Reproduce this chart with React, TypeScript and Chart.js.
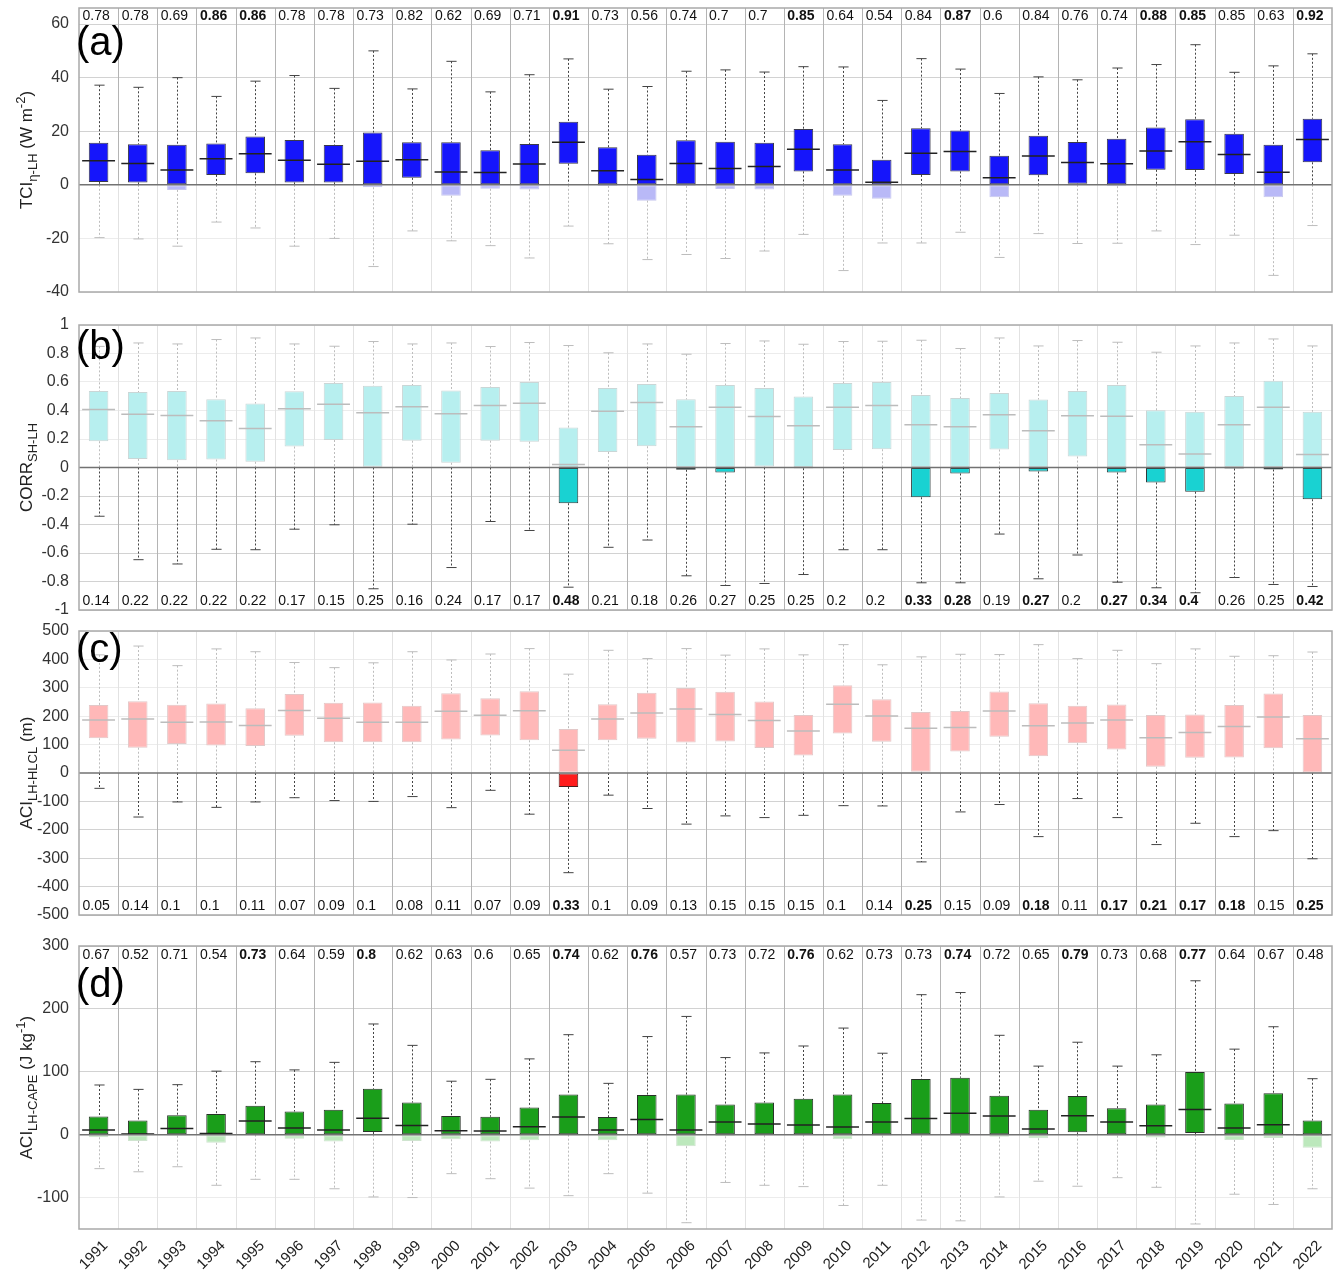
import React, { useEffect, useRef } from 'react';
import { Chart, registerables } from 'chart.js';
Chart.register(...registerables);

const FONT = '"Liberation Sans", Arial, Helvetica, sans-serif';

const years = ['1991','1992','1993','1994','1995','1996','1997','1998','1999','2000','2001','2002','2003','2004','2005','2006','2007','2008','2009','2010','2011','2012','2013','2014','2015','2016','2017','2018','2019','2020','2021','2022'];

// ---- Panel (a): TCI eta-LH ----
const aMax = [37.2, 36.4, 40.0, 33.0, 38.7, 40.8, 36.0, 50.0, 35.8, 46.1, 34.7, 41.1, 47.0, 35.7, 36.7, 42.4, 42.9, 42.1, 44.1, 44.0, 31.5, 47.1, 43.2, 34.1, 40.3, 39.2, 43.6, 44.9, 52.3, 42.0, 44.4, 48.9];
const aQ3 = [15.7, 15.1, 15.0, 15.4, 18.0, 16.7, 14.9, 19.5, 15.9, 15.9, 12.9, 15.2, 23.5, 14.0, 11.2, 16.6, 16.1, 15.7, 20.8, 15.1, 9.4, 21.1, 20.3, 10.9, 18.3, 16.0, 17.2, 21.4, 24.5, 19.1, 15.0, 24.7];
const aMed = [9.0, 8.0, 5.5, 9.7, 11.6, 9.2, 7.7, 8.8, 9.4, 4.8, 4.6, 7.8, 15.9, 5.3, 2.0, 8.0, 6.1, 6.8, 13.3, 5.5, 1.0, 11.8, 12.4, 2.6, 10.8, 8.3, 7.9, 12.6, 16.1, 11.3, 4.7, 16.9];
const aQ1 = [1.1, 0.9, -1.9, 3.7, 4.3, 0.9, 0.9, -0.9, 2.6, -4.1, -1.5, -1.7, 7.9, -0.4, -5.9, -0.4, -1.6, -1.7, 5.0, -4.1, -5.2, 3.7, 5.0, -4.6, 3.6, 0.4, -0.5, 5.6, 5.5, 4.0, -4.6, 8.4];
const aMin = [-19.7, -20.2, -22.9, -13.9, -16.1, -22.9, -20.0, -30.5, -17.2, -20.9, -22.7, -27.3, -15.4, -22.0, -27.9, -26.0, -27.5, -24.7, -18.5, -32.0, -21.7, -21.7, -17.7, -27.1, -18.2, -21.9, -21.8, -17.2, -22.3, -18.8, -33.8, -15.2];
const aStats = ['0.78','0.78','0.69','0.86','0.86','0.78','0.78','0.73','0.82','0.62','0.69','0.71','0.91','0.73','0.56','0.74','0.7','0.7','0.85','0.64','0.54','0.84','0.87','0.6','0.84','0.76','0.74','0.88','0.85','0.85','0.63','0.92'];
const aBold = ['1994','1995','2003','2009','2013','2018','2019','2022'];
const aTicks = [-40, -20, 0, 20, 40, 60];

// ---- Panel (b): CORR SH-LH ----
const bMax = [0.85, 0.874, 0.867, 0.898, 0.909, 0.867, 0.851, 0.884, 0.867, 0.874, 0.849, 0.877, 0.856, 0.805, 0.867, 0.795, 0.87, 0.888, 0.865, 0.884, 0.886, 0.893, 0.835, 0.909, 0.853, 0.891, 0.879, 0.809, 0.853, 0.874, 0.902, 0.853];
const bQ3 = [0.537, 0.53, 0.537, 0.479, 0.449, 0.535, 0.593, 0.574, 0.579, 0.54, 0.565, 0.6, 0.281, 0.558, 0.586, 0.479, 0.579, 0.558, 0.498, 0.593, 0.6, 0.509, 0.488, 0.523, 0.477, 0.537, 0.579, 0.402, 0.391, 0.502, 0.609, 0.391];
const bMed = [0.407, 0.374, 0.365, 0.328, 0.274, 0.412, 0.444, 0.384, 0.426, 0.377, 0.435, 0.451, 0.021, 0.395, 0.456, 0.286, 0.423, 0.358, 0.293, 0.423, 0.435, 0.3, 0.286, 0.37, 0.258, 0.363, 0.36, 0.16, 0.095, 0.3, 0.423, 0.091];
const bQ1 = [0.184, 0.06, 0.051, 0.056, 0.04, 0.147, 0.193, 0.005, 0.188, 0.033, 0.188, 0.181, -0.251, 0.109, 0.149, -0.016, -0.035, 0.007, -0.005, 0.123, 0.128, -0.209, -0.042, 0.126, -0.028, 0.077, -0.035, -0.105, -0.17, -0.007, -0.014, -0.223];
const bMin = [-0.342, -0.647, -0.677, -0.574, -0.577, -0.433, -0.402, -0.851, -0.398, -0.702, -0.379, -0.442, -0.84, -0.56, -0.509, -0.76, -0.828, -0.814, -0.751, -0.577, -0.577, -0.809, -0.809, -0.467, -0.781, -0.614, -0.805, -0.844, -0.879, -0.772, -0.821, -0.835];
const bStats = ['0.14','0.22','0.22','0.22','0.22','0.17','0.15','0.25','0.16','0.24','0.17','0.17','0.48','0.21','0.18','0.26','0.27','0.25','0.25','0.2','0.2','0.33','0.28','0.19','0.27','0.2','0.27','0.34','0.4','0.26','0.25','0.42'];
const bBold = ['2003','2012','2013','2015','2017','2018','2019','2022'];
const bTicks = [-1, -0.8, -0.6, -0.4, -0.2, 0, 0.2, 0.4, 0.6, 0.8, 1];

// ---- Panel (c): ACI LH-HLCL ----
const cMax = [416, 447, 378, 437, 427, 389, 371, 388, 427, 398, 419, 438, 348, 432, 403, 438, 415, 437, 416, 452, 381, 409, 418, 417, 452, 403, 432, 385, 437, 411, 413, 426];
const cQ3 = [239, 253, 240, 245, 228, 278, 247, 248, 237, 281, 263, 288, 155, 242, 283, 299, 286, 252, 204, 309, 260, 215, 218, 287, 246, 237, 241, 204, 206, 239, 280, 204];
const cMed = [187, 190, 179, 180, 167, 220, 193, 179, 179, 217, 203, 219, 80, 190, 211, 225, 206, 185, 148, 242, 201, 158, 160, 218, 166, 176, 187, 124, 143, 164, 197, 121];
const cQ1 = [122, 89, 102, 97, 95, 131, 108, 108, 108, 118, 132, 115, -49, 115, 121, 107, 111, 88, 62, 139, 110, 4, 76, 128, 59, 105, 83, 22, 54, 55, 87, 0];
const cMin = [-54, -155, -102, -121, -102, -87, -97, -100, -83, -122, -61, -145, -351, -78, -125, -180, -151, -157, -149, -115, -116, -313, -137, -111, -224, -90, -157, -252, -177, -224, -203, -302];
const cStats = ['0.05','0.14','0.1','0.1','0.11','0.07','0.09','0.1','0.08','0.11','0.07','0.09','0.33','0.1','0.09','0.13','0.15','0.15','0.15','0.1','0.14','0.25','0.15','0.09','0.18','0.11','0.17','0.21','0.17','0.18','0.15','0.25'];
const cBold = ['2003','2012','2015','2017','2018','2019','2020','2022'];
const cTicks = [-500, -400, -300, -200, -100, 0, 100, 200, 300, 400, 500];

// ---- Panel (d): ACI LH-CAPE ----
const dMax = [79, 72, 79.5, 101, 116, 103, 115, 176, 142, 85, 88, 120.5, 159, 81.6, 156, 188, 122.6, 130, 141, 169.5, 129.5, 222.6, 226, 158, 109, 147, 109, 127, 244.7, 136, 171.6, 89];
const dQ3 = [29, 22.6, 31, 33, 46, 37, 39.5, 73, 51, 29.5, 28.4, 43, 63.7, 28, 63, 64, 48, 51, 57, 64, 50.5, 88.4, 90.5, 62, 39.5, 61.6, 42, 48, 99.5, 49.5, 65.8, 22.6];
const dMed = [7.4, 1, 10, 2, 21.6, 10.5, 7.4, 26, 14.7, 6.3, 5.8, 12.6, 28, 7.4, 24, 7.4, 20, 16.8, 15.3, 12, 20, 25.8, 34, 29.5, 9, 30, 20, 14, 40, 10.5, 15.8, 0];
const dQ1 = [-4.2, -10, -1.6, -13, 0, -6.3, -11, 4.2, -10, -7.4, -11, -9, 0, -9, 0, -18.4, -2.6, -1, 0.5, -7.4, -1.6, -1, -0.5, -3.2, -5.8, 3.7, -1.6, -4.7, 2.6, -8.4, -5.3, -21];
const dMin = [-54, -59, -51, -80.5, -71, -71, -86, -99, -100, -62, -70, -85, -97, -62, -93, -140, -76, -80.5, -82.6, -112.6, -80.5, -135.8, -137, -99, -74, -82, -68.4, -83.7, -142, -94.7, -111, -86];
const dStats = ['0.67','0.52','0.71','0.54','0.73','0.64','0.59','0.8','0.62','0.63','0.6','0.65','0.74','0.62','0.76','0.57','0.73','0.72','0.76','0.62','0.73','0.73','0.74','0.72','0.65','0.79','0.73','0.68','0.77','0.64','0.67','0.48'];
const dBold = ['1995','1998','2003','2005','2009','2013','2016','2019'];
const dTicks = [-100, 0, 100, 200, 300];

type Part = { t: string; k: 'n' | 'sub' | 'sup' };
type PanelCfg = {
  key: string; letter: string; letterDy: number;
  mins: number[]; q1: number[]; med: number[]; q3: number[]; maxs: number[];
  stats: string[]; bold: string[]; statY: number;
  yMin: number; yMax: number; ticks: number[];
  darkPositive: boolean;
  dark: string; darkBorder: string; light: string; lightBorder: string;
  title: Part[];
  plotTop: number; plotBottom: number; showX: boolean;
};

const panels: PanelCfg[] = [
  {
    key: 'a', letter: '(a)', letterDy: 16,
    mins: aMin, q1: aQ1, med: aMed, q3: aQ3, maxs: aMax,
    stats: aStats, bold: aBold, statY: 62.9,
    yMin: -40, yMax: 66, ticks: aTicks, darkPositive: true,
    dark: '#1515fb', darkBorder: '#3a3a4a', light: '#b9b9f7', lightBorder: '#c9c9ee',
    title: [{ t: 'TCI', k: 'n' }, { t: 'η-LH', k: 'sub' }, { t: ' (W m', k: 'n' }, { t: '-2', k: 'sup' }, { t: ')', k: 'n' }],
    plotTop: 8, plotBottom: 292, showX: false,
  },
  {
    key: 'b', letter: '(b)', letterDy: 3,
    mins: bMin, q1: bQ1, med: bMed, q3: bQ3, maxs: bMax,
    stats: bStats, bold: bBold, statY: -0.935,
    yMin: -1, yMax: 1, ticks: bTicks, darkPositive: false,
    dark: '#19d2d2', darkBorder: '#2e3a3a', light: '#b7efef', lightBorder: '#cad6d6',
    title: [{ t: 'CORR', k: 'n' }, { t: 'SH-LH', k: 'sub' }],
    plotTop: 325, plotBottom: 610, showX: false,
  },
  {
    key: 'c', letter: '(c)', letterDy: 0,
    mins: cMin, q1: cQ1, med: cMed, q3: cQ3, maxs: cMax,
    stats: cStats, bold: cBold, statY: -470,
    yMin: -500, yMax: 500, ticks: cTicks, darkPositive: false,
    dark: '#ff1c1c', darkBorder: '#4a2020', light: '#ffb8b8', lightBorder: '#e2c8c8',
    title: [{ t: 'ACI', k: 'n' }, { t: 'LH-HLCL', k: 'sub' }, { t: ' (m)', k: 'n' }],
    plotTop: 631, plotBottom: 915, showX: false,
  },
  {
    key: 'd', letter: '(d)', letterDy: 20,
    mins: dMin, q1: dQ1, med: dMed, q3: dQ3, maxs: dMax,
    stats: dStats, bold: dBold, statY: 286,
    yMin: -150, yMax: 300, ticks: dTicks, darkPositive: true,
    dark: '#1a9e1a', darkBorder: '#283228', light: '#bce8bc', lightBorder: '#cfe4cf',
    title: [{ t: 'ACI', k: 'n' }, { t: 'LH-CAPE', k: 'sub' }, { t: ' (J kg', k: 'n' }, { t: '-1', k: 'sup' }, { t: ')', k: 'n' }],
    plotTop: 946, plotBottom: 1229, showX: true,
  },
];

const SEP_DARK = '#b4b4b4';
const SEP_LIGHT = '#e2e2e2';
const GRID_DARK = '#d2d2d2';
const GRID_LIGHT = '#ececec';
const WH_DARK = '#444444';
const WH_LIGHT = '#bdbdbd';
const MED_DARK = '#222222';
const MED_LIGHT = '#bcbcbc';
const PAD = 24;

function drawTitle(ctx: CanvasRenderingContext2D, parts: Part[], cx: number, cy: number) {
  ctx.save();
  ctx.translate(cx, cy);
  ctx.rotate(-Math.PI / 2);
  const fN = `17px ${FONT}`;
  const fS = `13px ${FONT}`;
  let total = 0;
  const widths = parts.map((pt) => {
    ctx.font = pt.k === 'n' ? fN : fS;
    const w = ctx.measureText(pt.t).width;
    total += w;
    return w;
  });
  let x = -total / 2;
  ctx.fillStyle = '#222';
  ctx.textAlign = 'left';
  ctx.textBaseline = 'alphabetic';
  parts.forEach((pt, i) => {
    ctx.font = pt.k === 'n' ? fN : fS;
    const dy = pt.k === 'sub' ? 5 : pt.k === 'sup' ? -7 : 0;
    ctx.fillText(pt.t, x, 6 + dy);
    x += widths[i];
  });
  ctx.restore();
}

function deco(p: PanelCfg) {
  const isDark = (v: number) => (p.darkPositive ? v > 0 : v < 0);
  return {
    id: 'deco_' + p.key,
    beforeDatasetsDraw(chart: any) {
      const { ctx, chartArea: a } = chart;
      const xs = chart.scales.x;
      const ys = chart.scales.y;
      const y0 = ys.getPixelForValue(0);
      ctx.save();
      ctx.lineWidth = 1;
      for (let i = 1; i < years.length; i++) {
        const xp = Math.round((xs.getPixelForValue(i - 1) + xs.getPixelForValue(i)) / 2) + 0.5;
        ctx.strokeStyle = p.darkPositive ? SEP_DARK : SEP_LIGHT;
        ctx.beginPath(); ctx.moveTo(xp, a.top); ctx.lineTo(xp, y0); ctx.stroke();
        ctx.strokeStyle = p.darkPositive ? SEP_LIGHT : SEP_DARK;
        ctx.beginPath(); ctx.moveTo(xp, y0); ctx.lineTo(xp, a.bottom); ctx.stroke();
      }
      ctx.restore();
    },
    afterDatasetsDraw(chart: any) {
      const { ctx, chartArea: a } = chart;
      const xs = chart.scales.x;
      const ys = chart.scales.y;
      const colW = xs.getPixelForValue(1) - xs.getPixelForValue(0);
      const Y = (v: number) => ys.getPixelForValue(v);
      ctx.save();
      const vseg = (xp: number, lo: number, hi: number) => {
        const pieces = lo < 0 && hi > 0 ? [[lo, 0], [0, hi]] : [[lo, hi]];
        for (const [l, h] of pieces) {
          ctx.strokeStyle = isDark((l + h) / 2) ? WH_DARK : WH_LIGHT;
          ctx.setLineDash([2, 2]);
          ctx.lineWidth = 1;
          ctx.beginPath(); ctx.moveTo(xp, Y(h)); ctx.lineTo(xp, Y(l)); ctx.stroke();
        }
      };
      const hline = (xc: number, half: number, v: number, color: string, lw: number) => {
        ctx.setLineDash([]);
        ctx.strokeStyle = color;
        ctx.lineWidth = lw;
        ctx.beginPath(); ctx.moveTo(xc - half, Y(v)); ctx.lineTo(xc + half, Y(v)); ctx.stroke();
      };
      for (let i = 0; i < years.length; i++) {
        const xc = xs.getPixelForValue(i);
        const xp = Math.round(xc) + 0.5;
        vseg(xp, p.q3[i], p.maxs[i]);
        vseg(xp, p.mins[i], p.q1[i]);
        hline(xp, colW * 0.13, p.maxs[i], isDark(p.maxs[i]) ? WH_DARK : WH_LIGHT, 1);
        hline(xp, colW * 0.13, p.mins[i], isDark(p.mins[i]) ? WH_DARK : WH_LIGHT, 1);
        hline(xc, colW * 0.42, p.med[i], isDark(p.med[i]) ? MED_DARK : MED_LIGHT, 1.5);
      }
      // zero line
      ctx.setLineDash([]);
      ctx.strokeStyle = '#727272';
      ctx.lineWidth = 1.5;
      ctx.beginPath(); ctx.moveTo(a.left, Y(0)); ctx.lineTo(a.right, Y(0)); ctx.stroke();
      // frame
      ctx.strokeStyle = '#a9a9a9';
      ctx.lineWidth = 1.5;
      ctx.strokeRect(a.left, a.top, a.right - a.left, a.bottom - a.top);
      // stats
      ctx.fillStyle = '#111';
      ctx.textAlign = 'left';
      ctx.textBaseline = 'middle';
      for (let i = 0; i < years.length; i++) {
        const b = p.bold.includes(years[i]);
        ctx.font = `${b ? 'bold ' : ''}14px ${FONT}`;
        ctx.fillText(p.stats[i], xs.getPixelForValue(i) - colW / 2 + 3.5, Y(p.statY));
      }
      // panel letter
      ctx.font = `40px ${FONT}`;
      ctx.textBaseline = 'top';
      ctx.fillStyle = '#000';
      ctx.fillText(p.letter, a.left - 3, a.top + p.letterDy);
      ctx.restore();
      drawTitle(ctx, p.title, 26, (a.top + a.bottom) / 2);
    },
  };
}

function Panel({ p }: { p: PanelCfg }) {
  const ref = useRef<HTMLCanvasElement>(null);
  const canvasTop = p.plotTop - PAD;
  const canvasH = p.showX ? 1271 - canvasTop : p.plotBottom - p.plotTop + 2 * PAD;
  useEffect(() => {
    const isDark = (v: number) => (p.darkPositive ? v > 0 : v < 0);
    const pos = years.map((_, i) => (p.q3[i] > 0 ? [Math.max(p.q1[i], 0), p.q3[i]] : null));
    const neg = years.map((_, i) => (p.q1[i] < 0 ? [p.q1[i], Math.min(p.q3[i], 0)] : null));
    const posDark = p.darkPositive;
    const common = { borderWidth: 1, borderSkipped: false, grouped: false, barPercentage: 0.5, categoryPercentage: 1 };
    const xScale: any = {
      type: 'category',
      offset: true,
      display: p.showX,
      grid: { display: false },
      border: { display: false },
      ticks: { color: '#222', font: { size: 15, family: FONT }, minRotation: 45, maxRotation: 45, autoSkip: false, padding: 0, labelOffset: 7 },
    };
    if (p.showX) xScale.afterFit = (s: any) => { s.height = 42; };
    const chart = new Chart(ref.current as HTMLCanvasElement, {
      type: 'bar',
      data: {
        labels: years,
        datasets: [
          { ...common, data: pos as any, backgroundColor: posDark ? p.dark : p.light, borderColor: posDark ? p.darkBorder : p.lightBorder },
          { ...common, data: neg as any, backgroundColor: posDark ? p.light : p.dark, borderColor: posDark ? p.lightBorder : p.darkBorder },
        ],
      } as any,
      options: {
        responsive: false,
        animation: false,
        devicePixelRatio: 1,
        layout: { padding: { top: PAD, bottom: p.showX ? 0 : PAD, left: 0, right: 6 } },
        plugins: { legend: { display: false }, tooltip: { enabled: false } },
        scales: {
          x: xScale,
          y: {
            type: 'linear',
            min: p.yMin,
            max: p.yMax,
            afterBuildTicks: (s: any) => { s.ticks = p.ticks.map((v) => ({ value: v })); },
            ticks: {
              color: '#333',
              font: { size: 16, family: FONT },
              padding: 10,
              callback: (v: any) => String(Math.round(Number(v) * 1000) / 1000),
            },
            grid: {
              color: (c: any) => {
                const v = c.tick ? c.tick.value : 1;
                if (v === 0) return 'rgba(0,0,0,0)';
                return isDark(v) ? GRID_DARK : GRID_LIGHT;
              },
              lineWidth: 1,
              drawTicks: false,
            },
            border: { display: false },
            afterFit: (s: any) => { s.width = 79; },
          },
        },
      } as any,
      plugins: [deco(p)],
    });
    return () => chart.destroy();
  }, []);
  return (
    <canvas
      ref={ref}
      width={1338}
      height={canvasH}
      style={{ position: 'absolute', left: 0, top: canvasTop, width: 1338, height: canvasH }}
    />
  );
}

export default function App() {
  return (
    <div style={{ position: 'absolute', left: 0, top: 0, width: 1338, height: 1271, background: '#fff', overflow: 'hidden' }}>
      {panels.map((p) => (
        <Panel key={p.key} p={p} />
      ))}
    </div>
  );
}
